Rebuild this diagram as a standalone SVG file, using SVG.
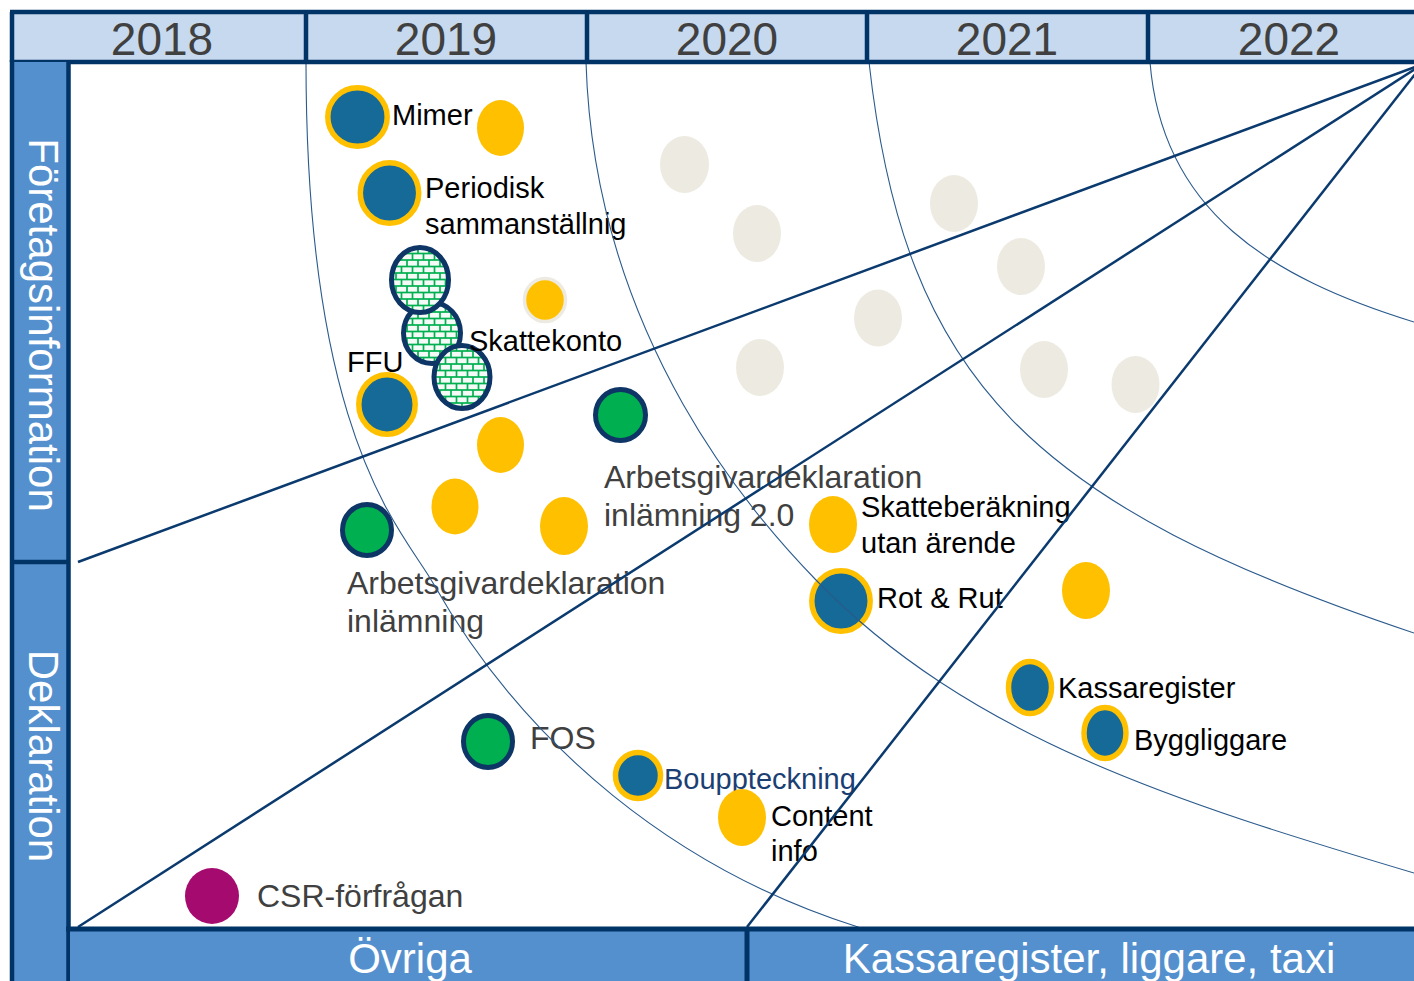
<svg xmlns="http://www.w3.org/2000/svg" width="1414" height="981" viewBox="0 0 1414 981">
<defs>
<pattern id="brick" width="11" height="13" patternUnits="userSpaceOnUse">
<rect width="11" height="13" fill="#00B050"/>
<rect x="0.85" y="0.85" width="9.3" height="4.8" fill="#F4FBF6"/>
<rect x="-4.65" y="7.35" width="9.3" height="4.8" fill="#F4FBF6"/>
<rect x="6.35" y="7.35" width="9.3" height="4.8" fill="#F4FBF6"/>
</pattern>
<style>
text{font-family:"Liberation Sans",Arial,sans-serif}
.gold{fill:#156A97;stroke:#FFC000;stroke-width:5.5}
.yel{fill:#FFC000}
.beige{fill:#EDEBE1}
.grn{fill:#00B050;stroke:#0D3566;stroke-width:5}
.hatch{fill:url(#brick);stroke:#0D3566;stroke-width:5}
.lb{font-size:29px;fill:#000}
.lg{font-size:32px;fill:#404040}
.arc{fill:none;stroke:#2A5A8C;stroke-width:1.1}
.ray{stroke:#0B3A6E;stroke-width:2.5;fill:none}
.frame{stroke:#003366;fill:none}
.yr{font-size:46px;fill:#404040;text-anchor:middle}
.wt{font-size:42px;fill:#fff;text-anchor:middle}
</style>
</defs>
<rect width="1414" height="981" fill="#fff"/>

<g id="nodes">
<g id="n-mimer"><ellipse class="gold" cx="357.5" cy="117" rx="29.7" ry="29.2"/><text class="lb" x="392" y="125">Mimer</text></g>
<g id="n-y1"><ellipse class="yel" cx="500.5" cy="128" rx="23.5" ry="28"/></g>
<g id="n-periodisk"><ellipse class="gold" cx="389.5" cy="193" rx="29.2" ry="30.2"/><text class="lb" x="425" y="198">Periodisk</text><text class="lb" x="425" y="234">sammanställnig</text></g>
<g id="n-skattekonto">
<ellipse class="hatch" cx="432" cy="333" rx="28.5" ry="30.5"/>
<ellipse class="hatch" cx="420" cy="280" rx="28.5" ry="32.5"/>
<ellipse class="hatch" cx="462" cy="377" rx="28" ry="31.5"/>
<text class="lb" x="469" y="351">Skattekonto</text>
</g>
<g id="n-y2"><ellipse cx="545" cy="300" rx="20.5" ry="21.5" fill="#FFC000" stroke="#EDEBE1" stroke-width="3.5"/></g>
<g id="n-ffu"><text class="lb" x="347" y="372">FFU</text><ellipse class="gold" cx="387" cy="404.5" rx="28.2" ry="29.7"/></g>
<g id="n-y3"><ellipse class="yel" cx="500.5" cy="445" rx="23.5" ry="28"/></g>
<g id="n-agd2"><ellipse class="grn" cx="620.5" cy="415" rx="25" ry="25.5"/><text class="lg" x="604" y="488">Arbetsgivardeklaration</text><text class="lg" x="604" y="526">inlämning 2.0</text></g>
<g id="n-b1"><ellipse class="beige" cx="684.5" cy="164.5" rx="24.5" ry="28.5"/></g>
<g id="n-b2"><ellipse class="beige" cx="757" cy="233.5" rx="24" ry="28.5"/></g>
<g id="n-b3"><ellipse class="beige" cx="954" cy="203.5" rx="24" ry="28.5"/></g>
<g id="n-b4"><ellipse class="beige" cx="1021" cy="266.5" rx="24" ry="28.5"/></g>
<g id="n-b5"><ellipse class="beige" cx="878" cy="318" rx="24" ry="28.5"/></g>
<g id="n-b6"><ellipse class="beige" cx="760" cy="367.5" rx="24" ry="28.5"/></g>
<g id="n-b7"><ellipse class="beige" cx="1044" cy="369.5" rx="24" ry="28.5"/></g>
<g id="n-b8"><ellipse class="beige" cx="1135.5" cy="384.5" rx="24" ry="28.5"/></g>
<g id="n-y4"><ellipse class="yel" cx="455" cy="506.5" rx="23.5" ry="28"/></g>
<g id="n-y5"><ellipse class="yel" cx="564" cy="526" rx="24" ry="29"/></g>
<g id="n-agd"><ellipse class="grn" cx="367" cy="530" rx="24.5" ry="25.5"/><text class="lg" x="347" y="594">Arbetsgivardeklaration</text><text class="lg" x="347" y="632">inlämning</text></g>
<g id="n-skatteberakning"><ellipse class="yel" cx="833" cy="524.5" rx="24" ry="28.5"/><text class="lb" x="861" y="517">Skatteberäkning</text><text class="lb" x="861" y="553">utan ärende</text></g>
<g id="n-rotrut"><ellipse class="gold" cx="841" cy="601" rx="29.2" ry="30.2"/><text class="lb" x="877" y="608">Rot &amp; Rut</text></g>
<g id="n-y6"><ellipse class="yel" cx="1086" cy="590.5" rx="24" ry="28.5"/></g>
<g id="n-kassaregister"><ellipse class="gold" cx="1030" cy="687.5" rx="21.5" ry="26" stroke-width="5"/><text class="lb" x="1058" y="698">Kassaregister</text></g>
<g id="n-byggliggare"><ellipse class="gold" cx="1105" cy="733" rx="21" ry="25.5" stroke-width="5"/><text class="lb" x="1134" y="750">Byggliggare</text></g>
<g id="n-fos"><ellipse class="grn" cx="488" cy="741.5" rx="24.5" ry="26"/><text class="lg" x="530" y="749">FOS</text></g>
<g id="n-bouppteckning"><ellipse class="gold" cx="638" cy="775.5" rx="22.5" ry="23" stroke-width="4.5"/><text class="lb" x="664" y="789" style="fill:#1B3F73">Bouppteckning</text></g>
<g id="n-content"><ellipse class="yel" cx="742" cy="817.5" rx="24" ry="28.5"/><text class="lb" x="771" y="826">Content</text><text class="lb" x="771" y="861">info</text></g>
<g id="n-csr"><ellipse cx="212" cy="896" rx="27" ry="28" fill="#A50B6F"/><text class="lg" x="257" y="907">CSR-förfrågan</text></g>
</g>

<g id="connectors">
<path class="arc" d="M306,40 L306,62 C306,442 403.5,530.8 433,583 C526,747.4 677.7,870.1 858,927 L880,935"/>
<path class="arc" d="M586,40 L586,62 C594.4,342 760.2,522.6 816,580 C969.3,737.7 1174.5,801.5 1414,873"/>
<path class="arc" d="M868,40 L869,62 C904.6,382.8 1033,505 1414,633"/>
<path class="arc" d="M1149,40 L1150,62 C1162,211.6 1270.8,277.7 1414,322"/>
<line class="ray" x1="1423" y1="64" x2="78" y2="562"/>
<line class="ray" x1="1423" y1="64" x2="78" y2="927"/>
<line class="ray" x1="1423" y1="64" x2="747" y2="927"/>
</g>

<g id="header">
<rect x="12" y="12" width="1410" height="50" fill="#C6D9EE"/>
<path class="frame" stroke-width="4.5" d="M10,12 H1414 M10,62 H1414 M12,12 V62 M306,12 V62 M587,12 V62 M867,12 V62 M1148,12 V62"/>
<text class="yr" x="162" y="55">2018</text>
<text class="yr" x="446" y="55">2019</text>
<text class="yr" x="727" y="55">2020</text>
<text class="yr" x="1007" y="55">2021</text>
<text class="yr" x="1289" y="55">2022</text>
</g>

<g id="left-bar">
<rect x="12" y="62" width="57" height="919" fill="#5590CE"/>
<path class="frame" stroke-width="4.5" d="M12,60 V981 M68.5,60 V981 M10,562 H70"/>
<text class="wt" transform="translate(29,325) rotate(90)">Företagsinformation</text>
<text class="wt" transform="translate(29,756) rotate(90)">Deklaration</text>
</g>

<g id="bottom-bar">
<rect x="70" y="929" width="1344" height="52" fill="#5590CE"/>
<path class="frame" stroke-width="5" d="M66,929 H1414 M747,929 V981"/>
<text class="wt" x="410" y="973">Övriga</text>
<text class="wt" x="1089" y="973">Kassaregister, liggare, taxi</text>
</g>
</svg>
